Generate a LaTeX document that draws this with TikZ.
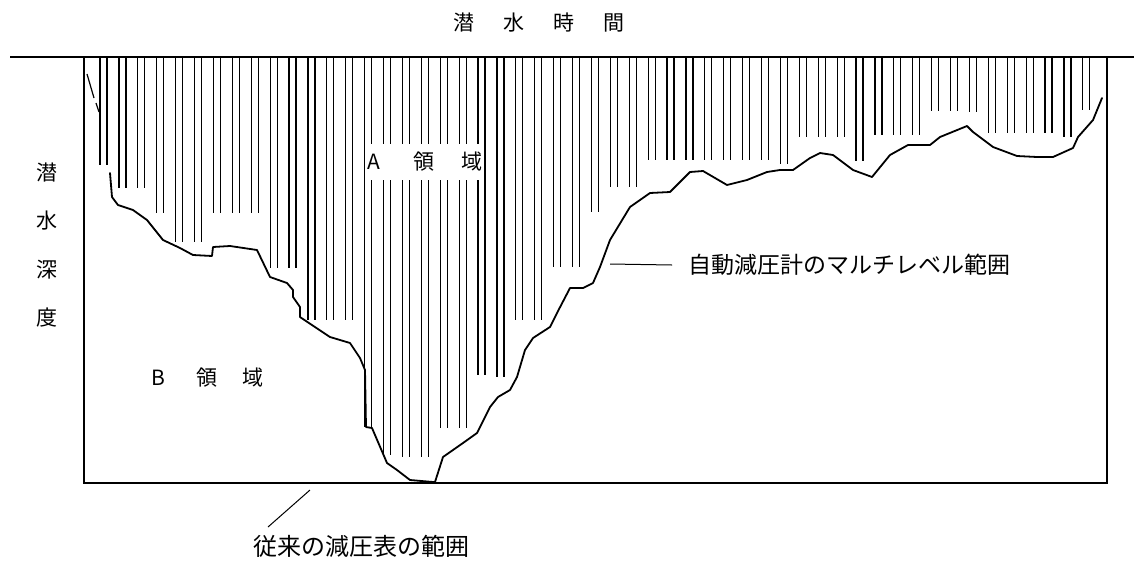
\documentclass[tikz,border=0pt]{standalone}
\usepackage{fontspec}
\newfontfamily\jp{Noto Sans CJK JP}
\begin{document}
\begin{tikzpicture}[x=1pt,y=-1pt,
  hatch/.style={line width=1.2pt},
  frame/.style={line width=1.8pt},
  profile/.style={line width=1.8pt,line join=round,line cap=round},
  leader/.style={line width=1pt},
  lbl/.style={inner sep=0pt,font=\jp\fontsize{21}{24}\selectfont},
  biglbl/.style={inner sep=0pt,font=\jp\fontsize{23}{26}\selectfont}]
\useasboundingbox (0,0) rectangle (1134,560);
\fill[white] (0,0) rectangle (1134,560);
% hatching
\foreach \k/\b in {0/165,1/188,2/188,3/213,4/242,5/242,6/213,7/213,8/213,9/268,10/268,11/320,12/320,13/320,14/427,15/455,16/457,17/457,18/428,19/428,20/375,21/377,22/320,23/320,24/267,25/267,26/212,27/187,28/187,29/160,30/160,31/160,32/160,33/160,34/160,35/160,36/164,37/137,38/137,39/137,40/161,41/135,42/135,43/135,44/111,45/111,46/112,47/133,48/133,49/133,50/133,51/137,52/110}{
  \draw[hatch] ({100+18.9*\k},57) -- ({100+18.9*\k},\b);
  \draw[hatch] ({107+18.9*\k},57) -- ({107+18.9*\k},\b);
}
% frame
\coordinate (tl) at (10,57);
\coordinate (tr) at (1134,57);
\coordinate (bl) at (84,57);
\coordinate (br) at (1107,57);
\coordinate (bbl) at (84,483);
\coordinate (bbr) at (1107,483);
\draw[line width=2.6pt] (tl) -- (tr);
\draw[frame] (bl) -- (bbl) -- (bbr) -- (br);
% dashed start piece
\draw[line width=1.2pt] (87,74) -- (94,98);
\draw[line width=1.2pt] (96,103) -- (99,112);
% profile
\draw[profile] (110,173) -- (112,197) -- (118,205) -- (133,210) -- (147,220) -- (163,240) -- (180,248) -- (193,255) -- (212,256) -- (213,247) -- (230,246) -- (257,250) -- (270,277) -- (287,283) -- (293,290) -- (293,297) -- (300,307) -- (300,317) -- (330,337) -- (350,343) -- (360,358) -- (365,370) -- (366,427) -- (372,428) -- (387,463) -- (397,470) -- (410,480) -- (433,482) -- (435,482) -- (443,457) -- (463,443) -- (477,433) -- (490,407) -- (498,397) -- (510,390) -- (517,377) -- (525,350) -- (533,338) -- (550,327) -- (557,313) -- (570,288) -- (583,288) -- (593,283) -- (600,267) -- (610,240) -- (630,207) -- (650,193) -- (670,192) -- (690,172) -- (703,171) -- (727,185) -- (747,180) -- (767,172) -- (780,170) -- (793,170) -- (810,158) -- (820,153) -- (833,155) -- (853,170) -- (872,177) -- (890,155) -- (908,145) -- (930,145) -- (940,137) -- (967,126) -- (973,132) -- (993,147) -- (1017,156) -- (1037,157) -- (1053,157) -- (1073,148) -- (1078,137) -- (1093,120) -- (1102,98);
% labels
\node[lbl] (title) at (539,23) {潜\hspace{29pt}水\hspace{29pt}時\hspace{29pt}間};
\node[lbl,align=center,font=\jp\fontsize{21}{48.5}\selectfont] (depth) at (47,245) {潜\\水\\深\\度};
\node[lbl,anchor=west,fill=white,inner xsep=0pt,inner ysep=8pt] (A) at (367,162) {A\hspace{34pt}領\hspace{27pt}域};
\node[lbl,anchor=west] (B) at (151,378) {B\hspace{32pt}領\hspace{25pt}域};
\node[biglbl,anchor=west] (multi) at (688,265) {自動減圧計のマルチレベル範囲};
\coordinate (m1) at (610,264);
\draw[leader] (m1) -- (multi.west -| 672,0);
\node[biglbl,anchor=west,font=\jp\fontsize{24}{28}\selectfont] (conv) at (253,546) {従来の減圧表の範囲};
\coordinate (c1) at (310,490);
\coordinate (c2) at (268,527);
\draw[leader] (c1) -- (c2);
\end{tikzpicture}
\end{document}
